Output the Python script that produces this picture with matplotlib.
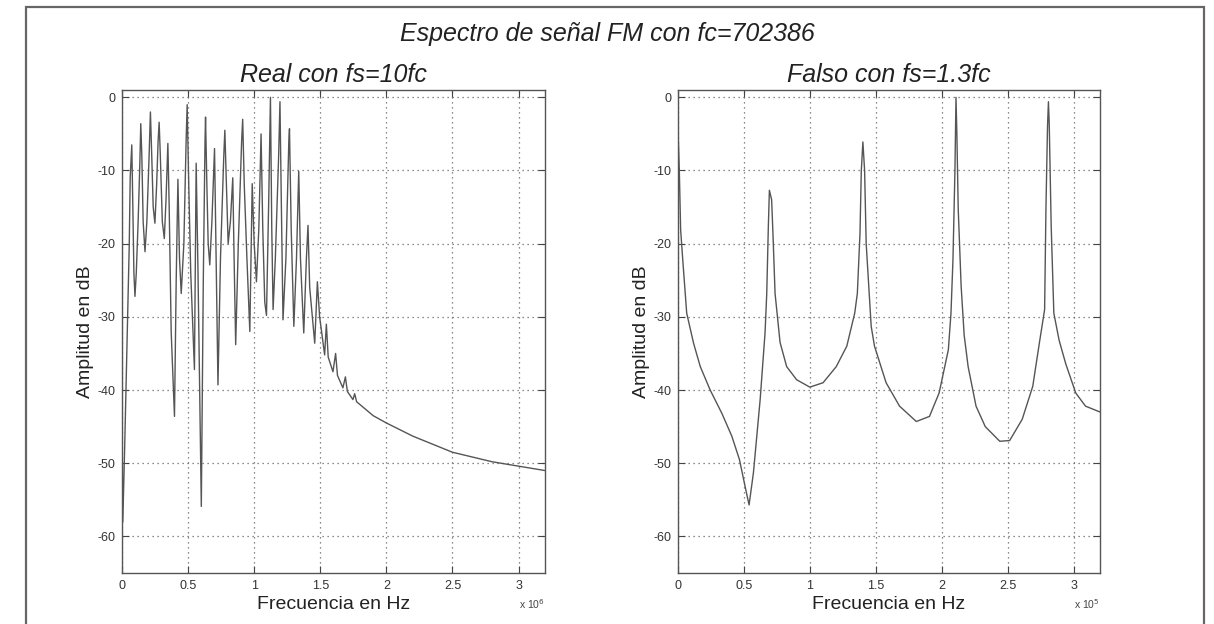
import matplotlib
matplotlib.use('Agg')
import matplotlib.pyplot as plt
from matplotlib.ticker import MultipleLocator, FuncFormatter
from matplotlib.patches import Rectangle

plt.rcParams['font.family'] = ['Liberation Sans', 'DejaVu Sans']

# ---- data ----
# left panel: real spectrum, frequency in units of 1e6 Hz, amplitude in dB
real_f = [0.000, 0.006, 0.020, 0.040, 0.055, 0.062, 0.074, 0.082, 0.090, 0.098,
          0.108, 0.122, 0.135, 0.142, 0.150, 0.160, 0.174, 0.188, 0.205, 0.215,
          0.225, 0.236, 0.249, 0.262, 0.273, 0.281, 0.290, 0.305, 0.320, 0.333,
          0.347, 0.357, 0.372, 0.397, 0.410, 0.423, 0.435, 0.448, 0.468, 0.485,
          0.493, 0.505, 0.520, 0.548, 0.561, 0.575, 0.600, 0.615, 0.628, 0.632,
          0.642, 0.652, 0.664, 0.680, 0.700, 0.712, 0.726, 0.745, 0.770, 0.778,
          0.790, 0.803, 0.820, 0.838, 0.848, 0.860, 0.880, 0.905, 0.913, 0.925,
          0.945, 0.967, 0.985, 1.000, 1.017, 1.035, 1.052, 1.065, 1.080, 1.093,
          1.110, 1.123, 1.133, 1.143, 1.160, 1.185, 1.195, 1.205, 1.218, 1.240,
          1.262, 1.267, 1.280, 1.300, 1.320, 1.337, 1.350, 1.375, 1.395, 1.407,
          1.420, 1.458, 1.478, 1.495, 1.533, 1.546, 1.560, 1.596, 1.616, 1.630,
          1.671, 1.690, 1.705, 1.747, 1.760, 1.775, 1.900, 2.000, 2.200, 2.500,
          2.800, 3.000, 3.200]
real_db = [-44, -58, -48, -32, -20, -11, -6.5, -15, -24, -27.2,
           -24, -17, -9, -3.6, -8, -17, -21.1, -17, -8, -2.0,
           -8, -15, -17.2, -12, -6, -3.4, -8, -17, -19.3, -14,
           -6.3, -15, -32, -43.6, -25, -11.2, -22, -26.8, -20, -6,
           -1.0, -12, -24, -37.2, -9, -24, -55.9, -25, -6, -2.7,
           -12, -20, -22.9, -17, -7.0, -22, -39.3, -22, -8, -4.5,
           -12, -20, -17, -11, -22, -33.8, -20, -6, -3.0, -12,
           -22, -32, -11.8, -20, -25.2, -18, -5.0, -18, -28, -29.8,
           -14, 0, -18, -29, -22, -8, -0.6, -14, -30.4, -22,
           -6, -4.3, -18, -31.3, -22, -10.1, -22, -32.2, -22, -17.5,
           -26, -33.6, -25.2, -30, -35.2, -31, -35.5, -37.5, -35, -38,
           -39.7, -38.2, -40.2, -41.3, -40.5, -41.6, -43.5, -44.5, -46.3, -48.5,
           -49.8, -50.4, -51.0]

# right panel: aliased spectrum, frequency in units of 1e5 Hz, amplitude in dB
alias_f = [0.000, 0.010, 0.020, 0.036, 0.066, 0.118, 0.169, 0.244, 0.333, 0.408,
           0.466, 0.509, 0.539, 0.572, 0.623, 0.660, 0.673, 0.685, 0.693, 0.710,
           0.720, 0.736, 0.774, 0.824, 0.900, 1.000, 1.100, 1.200, 1.280, 1.340,
           1.360, 1.380, 1.390, 1.402, 1.415, 1.427, 1.465, 1.490, 1.578, 1.680,
           1.807, 1.907, 1.980, 2.050, 2.070, 2.085, 2.100, 2.108, 2.115, 2.125,
           2.147, 2.170, 2.200, 2.260, 2.330, 2.440, 2.515, 2.610, 2.690, 2.740,
           2.780, 2.790, 2.802, 2.809, 2.815, 2.830, 2.850, 2.890, 2.940, 3.016,
           3.090, 3.200]
alias_db = [-4.5, -10, -18.1, -22.2, -29.5, -33.6, -36.8, -40, -43.2, -46.3,
            -49.5, -53.2, -55.7, -51.3, -41.3, -32.2, -26.8, -17.7, -12.7, -14,
            -18.6, -26.8, -33.5, -36.8, -38.6, -39.6, -39, -36.8, -34, -29.5,
            -26.8, -18.6, -10, -6.1, -10, -20, -31.3, -34, -39, -42.2,
            -44.3, -43.6, -40.4, -34.5, -29.5, -22.2, -10, 0, -5.3, -15.3,
            -25.8, -32.5, -36.8, -42.2, -45, -47, -46.9, -44, -39.5, -33.6,
            -29, -15.3, -4, -0.6, -3.6, -17.7, -29.5, -33.2, -36.4, -40.4,
            -42.2, -43]

suptitle = 'Espectro de señal FM con fc=702386'
titles = ['Real con fs=10fc', 'Falso con fs=1.3fc']
scales = [1e6, 1e5]
exps = ['6', '5']

fig = plt.figure(figsize=(12.14, 6.24), dpi=100)
fig.patch.set_facecolor('white')

# grey frame around the figure
fig.patches.append(Rectangle((26 / 1214, -0.05), (1204 - 26) / 1214, 1.05 - 7 / 624,
                             transform=fig.transFigure, fill=False,
                             edgecolor='#666666', lw=1.6))

fig.text(0.5, 1 - 34 / 624, suptitle, ha='center', va='center',
         fontsize=18, style='italic', color='#222222')

positions = [[122 / 1214, 1 - 573 / 624, 423 / 1214, 483 / 624],
             [678 / 1214, 1 - 573 / 624, 422 / 1214, 483 / 624]]
series = [(real_f, real_db), (alias_f, alias_db)]

for i in range(2):
    ax = fig.add_axes(positions[i])
    f, db = series[i]
    sc = scales[i]
    ax.plot([v * sc for v in f], db, color='#555555', lw=1.0)
    ax.set_xlim(0, 3.2 * sc)
    ax.set_ylim(-65, 1)
    ax.xaxis.set_major_locator(MultipleLocator(0.5 * sc))
    ax.yaxis.set_major_locator(MultipleLocator(10))
    ax.xaxis.set_major_formatter(FuncFormatter(lambda v, p, s=sc: '%g' % (v / s)))
    ax.yaxis.set_major_formatter(FuncFormatter(lambda v, p: '%g' % v))
    ax.grid(True, color='#666666', linestyle=(0, (1, 3)), lw=0.9)
    ax.tick_params(direction='in', top=True, right=True, length=5,
                   labelsize=9, colors='#444444', labelcolor='#333333', pad=5)
    for sp in ax.spines.values():
        sp.set_color('#555555')
        sp.set_linewidth(1.0)
    ax.set_title(titles[i], fontsize=18, style='italic', color='#222222', pad=6)
    ax.set_xlabel('Frecuencia en Hz', fontsize=14, color='#222222', labelpad=3)
    ax.set_ylabel('Amplitud en dB', fontsize=14, color='#222222', labelpad=2)
    ax.text(1.0, -0.065, r'x 10$^{%s}$' % exps[i], transform=ax.transAxes,
            ha='right', va='center', fontsize=7.5, color='#444444')

fig.savefig('out.png', dpi=100)
